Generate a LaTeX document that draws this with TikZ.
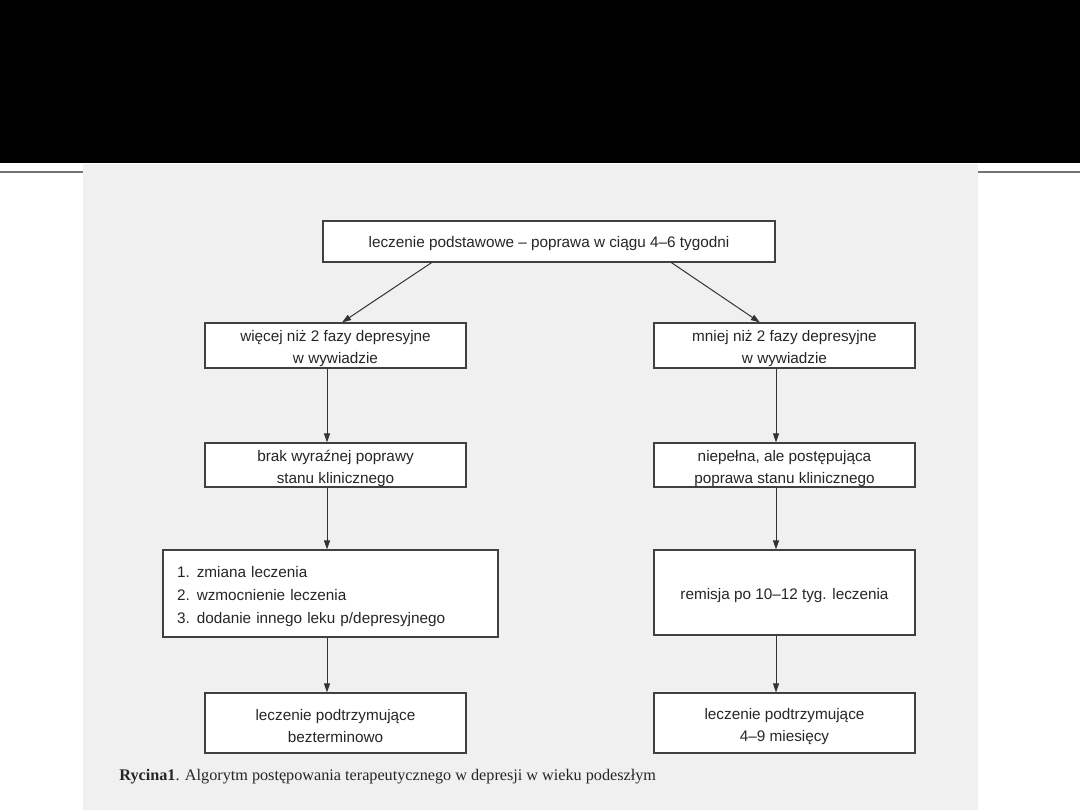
\documentclass[tikz,border=0pt]{standalone}
\usepackage{fontspec}
\setmainfont{Liberation Serif}
\newfontfamily\boxfont{Liberation Sans}
\usepackage{tikz}
\usetikzlibrary{arrows.meta, calc}
\newcommand\tstrut{\rule{0pt}{8.6pt}}

\begin{document}
\begin{tikzpicture}[
  x=0.5pt, y=-0.5pt,
  box/.style={rectangle, draw=black!75, line width=0.6pt, fill=white,
              text=black!85, align=center, inner sep=0pt,
              minimum width=130.5pt, minimum height=22.5pt,
              font=\boxfont\fontsize{7.65}{11}\selectfont},
  arr/.style={-{Triangle[length=4.5pt, width=3pt]}, line width=0.5pt, black!80},
  caption/.style={anchor=west, inner sep=0pt, text=black!85,
                  font=\fontsize{8.1}{10}\selectfont}
]
  \useasboundingbox (0,0) rectangle (1080,810);
  % page
  \fill[black] (0,0) rectangle (1080,163);
  \fill[black!6] (83,164) rectangle (978,810);
  \draw[black!55, line width=0.6pt] (0,172) -- (83,172);
  \draw[black!55, line width=0.6pt] (978,172) -- (1080,172);

  \node[box, minimum width=226pt, minimum height=20.5pt,
        text height=8pt, text depth=2pt] (start) at (549,241.5)
    {leczenie podstawowe – poprawa w ciągu 4–6 tygodni};

  \node[box] (more) at (335.5,345.5) {\tstrut więcej niż 2 fazy depresyjne\\w wywiadzie};
  \node[box] (less) at (784.5,345.5) {\tstrut mniej niż 2 fazy depresyjne\\w wywiadzie};

  \node[box, minimum height=22pt] (noimp) at (335.5,465)
    {\tstrut brak wyraźnej poprawy\\stanu klinicznego};
  \node[box, minimum height=22pt] (partimp) at (784.5,465)
    {\tstrut niepełna, ale postępująca\\poprawa stanu klinicznego};

  \node[box, align=left, minimum width=167.5pt, minimum height=43.5pt,
        text width=153.5pt, font=\boxfont\fontsize{7.65}{11.5}\selectfont]
    (change) at (330.5,593.5)
    {\tstrut 1.\hspace{3.5pt}zmiana leczenia\\2.\hspace{3.5pt}wzmocnienie leczenia\\3.\hspace{3.5pt}dodanie innego leku p/depresyjnego};
  \node[box, minimum height=42.5pt, text height=8.5pt, text depth=2pt]
    (remis) at (784.5,592.5) {remisja po 10–12 tyg. leczenia};

  \node[box, minimum height=30pt] (mainta) at (335.5,723)
    {\tstrut leczenie podtrzymujące\\bezterminowo};
  \node[box, minimum height=30pt] (maintb) at (784.5,723)
    {\tstrut leczenie podtrzymujące\\4–9 miesięcy};

  \coordinate (lx) at (327,0);
  \coordinate (rx) at (776,0);

  \draw[arr] ($(start.south west)!0.241!(start.south east)$)
          -- ($(more.north west)!0.525!(more.north east)$);
  \draw[arr] ($(start.south west)!0.77!(start.south east)$)
          -- ($(less.north west)!0.406!(less.north east)$);

  \draw[arr] (more.south -| lx) -- (noimp.north -| lx);
  \draw[arr] (noimp.south -| lx) -- (change.north -| lx);
  \draw[arr] (change.south -| lx) -- (mainta.north -| lx);
  \draw[arr] (less.south -| rx) -- (partimp.north -| rx);
  \draw[arr] (partimp.south -| rx) -- (remis.north -| rx);
  \draw[arr] (remis.south -| rx) -- (maintb.north -| rx);

  \node[caption] (cap) at (119,777)
    {\textbf{Rycina1}. Algorytm postępowania terapeutycznego w depresji w wieku podeszłym};
\end{tikzpicture}
\end{document}
